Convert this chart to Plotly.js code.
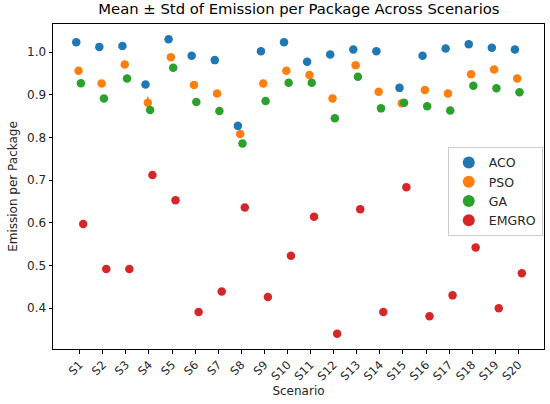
<!DOCTYPE html>
<html>
<head>
<meta charset="utf-8">
<script src="https://cdn.plot.ly/plotly-3.0.1.min.js"></script>
<style>html,body{margin:0;padding:0;background:#fff;}#chart{width:550px;height:404px;}</style>
</head>
<body>
<div id="chart"></div>
<script>
const scenarios = ["S1","S2","S3","S4","S5","S6","S7","S8","S9","S10","S11","S12","S13","S14","S15","S16","S17","S18","S19","S20"];
const seriesNames = ["ACO","PSO","GA","EMGRO"];
const acoMean   = [1.023,1.012,1.014,0.924,1.030,0.991,0.981,0.827,1.002,1.023,0.977,0.994,1.006,1.002,0.916,0.991,1.008,1.018,1.010,1.006];
const psoMean   = [0.956,0.926,0.971,0.881,0.988,0.923,0.903,0.808,0.926,0.956,0.946,0.891,0.969,0.907,0.880,0.911,0.903,0.948,0.959,0.938];
const gaMean    = [0.927,0.891,0.938,0.864,0.963,0.883,0.862,0.786,0.885,0.928,0.928,0.845,0.942,0.868,0.881,0.873,0.863,0.921,0.915,0.906];
const emgroMean = [0.597,0.492,0.492,0.712,0.653,0.391,0.439,0.636,0.426,0.523,0.614,0.340,0.632,0.391,0.683,0.381,0.430,0.542,0.400,0.482];
const acoStd    = [0.004,0.004,0.004,0.005,0.004,0.004,0.004,0.005,0.004,0.004,0.004,0.004,0.004,0.004,0.005,0.004,0.004,0.004,0.004,0.004];
const psoStd    = [0.004,0.004,0.004,0.014,0.004,0.004,0.004,0.005,0.004,0.004,0.004,0.004,0.004,0.004,0.005,0.004,0.004,0.004,0.004,0.004];
const gaStd     = [0.004,0.004,0.004,0.005,0.004,0.004,0.004,0.005,0.004,0.004,0.004,0.004,0.004,0.004,0.005,0.004,0.004,0.004,0.004,0.004];
const emgroStd  = [0.003,0.003,0.003,0.003,0.003,0.003,0.003,0.003,0.003,0.003,0.003,0.003,0.003,0.003,0.003,0.003,0.003,0.003,0.003,0.003];
const yTicks = [0.4,0.5,0.6,0.7,0.8,0.9,1.0];

const colors = ["#1f77b4","#ff7f0e","#2ca02c","#d62728"];
const offsets = [-0.15,-0.05,0.05,0.15];
const means = [acoMean, psoMean, gaMean, emgroMean];
const stds = [acoStd, psoStd, gaStd, emgroStd];

const traces = seriesNames.map((name, k) => ({
  type: "scatter",
  mode: "markers",
  name: name,
  x: scenarios.map((s, i) => i + offsets[k]),
  y: means[k],
  error_y: {type: "data", array: stds[k], visible: true, color: colors[k], thickness: 1.5, width: 0},
  marker: {color: colors[k], size: 8.5}
}));

const font = "DejaVu Sans, sans-serif";
const layout = {
  width: 550, height: 404,
  paper_bgcolor: "#fff", plot_bgcolor: "#fff",
  margin: {l: 53, r: 6, t: 24, b: 55},
  font: {family: font, color: "#262626", size: 12},
  title: {text: "Mean ± Std of Emission per Package Across Scenarios", font: {family: font, size: 14.8, color: "#000"}, x: 0.5435, xanchor: "center", y: 0.99, yanchor: "top"},
  xaxis: {
    range: [-1.157, 20.11],
    tickmode: "array",
    tickvals: scenarios.map((s, i) => i),
    ticktext: scenarios,
    tickangle: -45,
    ticks: "outside", ticklen: 3.5, tickcolor: "#000",
    showline: true, linecolor: "#000", linewidth: 1, mirror: true,
    showgrid: false, zeroline: false,
    tickfont: {family: font, size: 11.5, color: "#262626"},
    title: {text: "Scenario", font: {family: font, size: 12, color: "#262626"}, standoff: 4}
  },
  yaxis: {
    range: [0.3044, 1.0656],
    tickmode: "array",
    tickvals: yTicks,
    ticktext: yTicks.map(v => v.toFixed(1)),
    ticks: "outside", ticklen: 3.5, tickcolor: "#000",
    showline: true, linecolor: "#000", linewidth: 1, mirror: true,
    showgrid: false, zeroline: false,
    tickfont: {family: font, size: 12, color: "#262626"},
    title: {text: "Emission per Package", font: {family: font, size: 12, color: "#262626"}, standoff: 6}
  },
  showlegend: true,
  legend: {
    x: 0.804, y: 0.622, xanchor: "left", yanchor: "top",
    bgcolor: "rgba(255,255,255,0.8)", bordercolor: "#cccccc", borderwidth: 1,
    font: {family: font, size: 12.5, color: "#262626"},
    itemsizing: "constant", tracegroupgap: 0
  }
};

Plotly.newPlot("chart", traces, layout, {displayModeBar: false, staticPlot: true});
</script>
</body>
</html>
